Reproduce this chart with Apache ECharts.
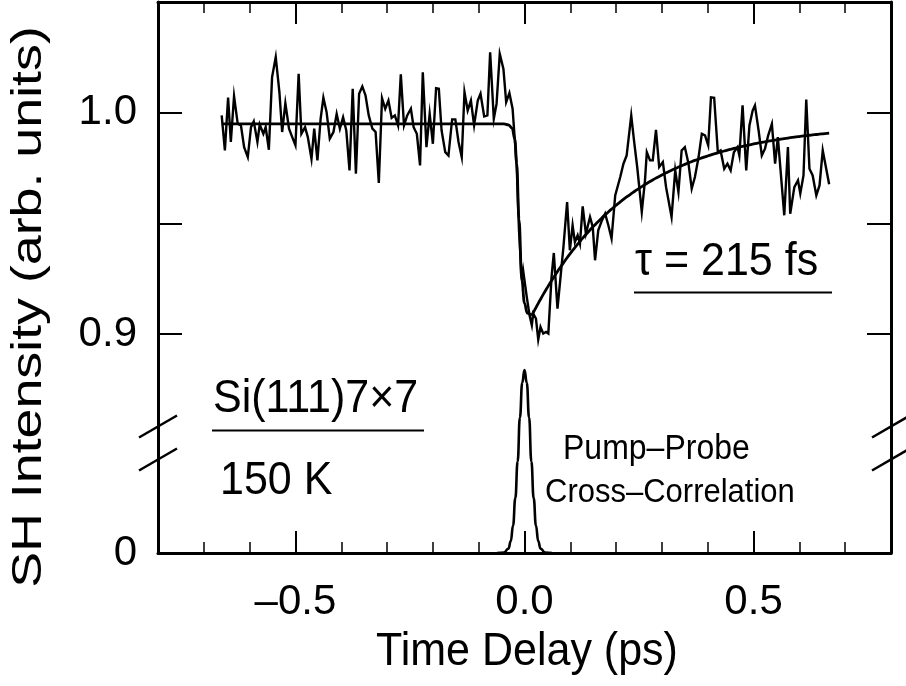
<!DOCTYPE html>
<html>
<head>
<meta charset="utf-8">
<script src="https://cdn.jsdelivr.net/npm/echarts@6/dist/echarts.min.js"></script>
<style>
  html, body { margin: 0; padding: 0; background: #ffffff; }
  #chart { width: 906px; height: 686px; }
</style>
</head>
<body>
<div id="chart"></div>
<script>
// Measured SH intensity versus pump-probe delay (ps), Si(111)7x7 at 150 K
const delayPs = [
  -0.661, -0.654, -0.647, -0.641, -0.634, -0.626, -0.619, -0.612, -0.604, -0.597,
  -0.591, -0.583, -0.578, -0.570, -0.565, -0.558, -0.551, -0.543, -0.535, -0.529,
  -0.522, -0.514, -0.507, -0.500, -0.493, -0.487, -0.479, -0.473, -0.465, -0.459,
  -0.452, -0.445, -0.439, -0.432, -0.425, -0.417, -0.410, -0.403, -0.396, -0.389,
  -0.382, -0.375, -0.368, -0.361, -0.354, -0.347, -0.340, -0.332, -0.325, -0.318,
  -0.311, -0.304, -0.297, -0.290, -0.283, -0.276, -0.270, -0.263, -0.256, -0.248,
  -0.242, -0.235, -0.228, -0.222, -0.214, -0.207, -0.200, -0.193, -0.187, -0.181,
  -0.173, -0.166, -0.158, -0.151, -0.144, -0.137, -0.131, -0.124, -0.117, -0.110,
  -0.102, -0.096, -0.088, -0.081, -0.075, -0.067, -0.061, -0.054, -0.046, -0.040,
  -0.033, -0.026, -0.017, -0.012, -0.006, -0.003, 0.001, 0.005, 0.011, 0.016,
  0.019, 0.025, 0.030, 0.035, 0.041, 0.047, 0.052, 0.059, 0.064, 0.072,
  0.078, 0.085, 0.093, 0.099, 0.105, 0.110, 0.116, 0.121, 0.127, 0.134,
  0.143, 0.149, 0.154, 0.161, 0.169, 0.176, 0.183, 0.190, 0.198, 0.209,
  0.216, 0.223, 0.233, 0.239, 0.246, 0.256, 0.263, 0.267, 0.274, 0.280,
  0.287, 0.294, 0.302, 0.309, 0.321, 0.329, 0.336, 0.343, 0.350, 0.358,
  0.365, 0.372, 0.380, 0.387, 0.394, 0.401, 0.407, 0.414, 0.422, 0.428,
  0.436, 0.443, 0.450, 0.457, 0.465, 0.469, 0.476, 0.484, 0.491, 0.498,
  0.503, 0.511, 0.518, 0.525, 0.532, 0.540, 0.547, 0.553, 0.567, 0.575,
  0.580, 0.589, 0.597, 0.602, 0.609, 0.615, 0.622, 0.629, 0.637, 0.644,
  0.651, 0.665
];
const shIntensity = [
  0.9988, 0.9830, 1.0068, 0.9868, 1.0075, 0.9950, 0.9943, 0.9845, 0.9800, 0.9935,
  0.9961, 0.9868, 0.9947, 0.9905, 0.9935, 0.9833, 1.0161, 1.0251, 1.0093, 0.9913,
  1.0043, 0.9928, 0.9890, 0.9853, 1.0176, 0.9905, 0.9935, 0.9890, 0.9792, 0.9928,
  0.9785, 0.9973, 1.0068, 1.0003, 0.9883, 0.9913, 0.9995, 0.9928, 0.9980, 0.9920,
  0.9740, 1.0108, 0.9725, 1.0086, 1.0119, 1.0078, 0.9988, 0.9928, 0.9913, 0.9683,
  1.0066, 1.0018, 1.0055, 0.9977, 0.9988, 0.9943, 1.0173, 0.9943, 0.9988, 1.0018,
  0.9935, 0.9905, 0.9762, 1.0183, 0.9845, 0.9995, 0.9860, 1.0111, 1.0108, 0.9920,
  0.9822, 0.9807, 0.9970, 0.9970, 0.9868, 0.9800, 1.0093, 1.0010, 1.0055, 0.9943,
  1.0055, 1.0086, 0.9983, 0.9988, 1.0273, 0.9973, 1.0040, 1.0266, 1.0198, 1.0048,
  1.0089, 1.0018, 0.9755, 0.9469, 0.9244, 0.9289, 0.9281, 0.9168, 0.9086, 0.9041,
  0.9093, 0.9071, 0.8976, 0.9033, 0.9003, 0.9010, 0.9003, 0.9258, 0.9367, 0.9116,
  0.9244, 0.9394, 0.9597, 0.9379, 0.9492, 0.9416, 0.9447, 0.9409, 0.9577, 0.9454,
  0.9529, 0.9484, 0.9334, 0.9469, 0.9514, 0.9544, 0.9492, 0.9432, 0.9627, 0.9710,
  0.9770, 0.9807, 0.9988, 0.9875, 0.9755, 0.9552, 0.9695, 0.9822, 0.9785, 0.9785,
  0.9923, 0.9755, 0.9777, 0.9664, 0.9529, 0.9740, 0.9642, 0.9830, 0.9845, 0.9770,
  0.9657, 0.9710, 0.9800, 0.9905, 0.9898, 0.9853, 1.0070, 1.0068, 0.9822, 0.9830,
  0.9747, 0.9770, 0.9740, 0.9822, 0.9845, 0.9807, 1.0033, 0.9740, 0.9943, 1.0010,
  1.0033, 0.9920, 0.9807, 0.9838, 0.9898, 0.9950, 0.9770, 0.9890, 0.9537, 0.9845,
  0.9544, 0.9664, 0.9695, 0.9635, 0.9717, 1.0060, 0.9747, 0.9717, 0.9627, 0.9672,
  0.9830, 0.9677
];

// Fit: flat level before time zero, drop limited by the cross-correlation
const fitStepDelays = [-0.661, -0.045, -0.035, -0.027, -0.021, -0.017, -0.012, -0.006, 0.000, 0.006, 0.016];
const fitStepValues = [0.995, 0.995, 0.9945, 0.993, 0.988, 0.977, 0.952, 0.925, 0.914, 0.9095, 0.9085];

// Fit: exponential recovery after time zero
const fitBaseline = 0.995;
const fitDepth = 0.0865;
const fitOnsetPs = 0.016;
const tauPs = 0.215;

// Pump-probe cross-correlation (normalised to its peak)
const ccDelays = [-0.06, -0.045, -0.035, -0.03, -0.025, -0.02, -0.015, -0.01, -0.005, 0.0,
                  0.005, 0.01, 0.015, 0.02, 0.025, 0.03, 0.035, 0.045, 0.06];
const ccValues = [0, 0.002, 0.024, 0.065, 0.15, 0.30, 0.50, 0.74, 0.93, 1.0,
                  0.93, 0.74, 0.50, 0.30, 0.15, 0.065, 0.024, 0.002, 0];

// Axis ticks and labels
const xMajorTicks = [-0.5, 0, 0.5];
const xTickLabels = ['\u20130.5', '0.0', '0.5'];
const yUpperTicks = [0.9, 0.95, 1.0];
const yUpperLabelValues = [0.9, 1.0];
const yUpperLabels = ['0.9', '1.0'];
const yLowerLabelValues = [0];
const yLowerLabels = ['0'];

const FONT = '"Liberation Sans", Arial, Helvetica, sans-serif';
const INK = '#000000';
const TEXT_STRETCH = 1.07;

// Plot frame geometry (pixels)
const plotLeft = 158, plotTop = 2, plotWidth = 733;
const breakY = 445, plotBottom = 553;
const plotRight = plotLeft + plotWidth;

function lookupLabel(values, labels) {
  return function (v) {
    for (let i = 0; i < values.length; i++) {
      if (Math.abs(values[i] - v) < 1e-9) return labels[i];
    }
    return '';
  };
}

const recoveryDelays = [fitOnsetPs].concat(delayPs.filter(t => t > fitOnsetPs));
const recoveryCurve = recoveryDelays.map(t => [t, fitBaseline - fitDepth * Math.exp(-(t - fitOnsetPs) / tauPs)]);

const frameLine = { show: true, onZero: false, lineStyle: { color: INK, width: 3 } };

function minorX(gridIndex, position) {
  return {
    type: 'value', gridIndex, position, min: -0.8, max: 0.8, interval: 0.1,
    axisLine: frameLine,
    axisTick: { show: true, inside: true, length: 11, lineStyle: { color: INK, width: 1.5 } },
    axisLabel: { show: false }, splitLine: { show: false }
  };
}
function majorX(gridIndex, position, withLabels) {
  return {
    type: 'value', gridIndex, position, min: -0.8, max: 0.8,
    axisLine: { show: false, onZero: false },
    axisTick: { show: true, inside: true, length: 22, customValues: xMajorTicks, lineStyle: { color: INK, width: 2 } },
    axisLabel: withLabels ? {
      show: true, customValues: xMajorTicks, formatter: lookupLabel(xMajorTicks, xTickLabels),
      color: INK, fontFamily: FONT, fontSize: 42, margin: 49, verticalAlign: 'middle'
    } : { show: false },
    splitLine: { show: false }
  };
}

function label(text, x, y, size, align) {
  return {
    type: 'text', x, y, scaleY: TEXT_STRETCH,
    style: { text, fontFamily: FONT, fontSize: size, fill: INK, align: align || 'left', verticalAlign: 'middle' }
  };
}
function rule(x1, x2, y) {
  return { type: 'line', shape: { x1, y1: y, x2, y2: y }, style: { stroke: INK, lineWidth: 2 } };
}

const option = {
  animation: false,
  backgroundColor: '#ffffff',
  grid: [
    { left: plotLeft, top: plotTop, width: plotWidth, height: breakY - plotTop },
    { left: plotLeft, top: breakY, width: plotWidth, height: plotBottom - breakY }
  ],
  xAxis: [
    minorX(0, 'top'),
    majorX(0, 'top', false),
    minorX(1, 'bottom'),
    majorX(1, 'bottom', true)
  ],
  yAxis: [
    {
      type: 'value', gridIndex: 0, position: 'left', min: 0.85, max: 1.05, interval: 0.05,
      axisLine: frameLine,
      axisTick: { show: true, inside: true, length: 24, customValues: yUpperTicks, lineStyle: { color: INK, width: 2 } },
      axisLabel: { show: true, customValues: yUpperLabelValues, formatter: lookupLabel(yUpperLabelValues, yUpperLabels),
                   color: INK, fontFamily: FONT, fontSize: 42, margin: 21 },
      splitLine: { show: false }
    },
    {
      type: 'value', gridIndex: 0, position: 'right', min: 0.85, max: 1.05, interval: 0.05,
      axisLine: frameLine,
      axisTick: { show: true, inside: true, length: 24, customValues: yUpperTicks, lineStyle: { color: INK, width: 2 } },
      axisLabel: { show: false }, splitLine: { show: false }
    },
    {
      type: 'value', gridIndex: 1, position: 'left', min: 0, max: 0.59,
      axisLine: frameLine, axisTick: { show: false },
      axisLabel: { show: true, customValues: yLowerLabelValues, formatter: lookupLabel(yLowerLabelValues, yLowerLabels),
                   color: INK, fontFamily: FONT, fontSize: 42, margin: 21 },
      splitLine: { show: false }
    },
    {
      type: 'value', gridIndex: 1, position: 'right', min: 0, max: 0.59,
      axisLine: frameLine, axisTick: { show: false }, axisLabel: { show: false }, splitLine: { show: false }
    }
  ],
  series: [
    {
      name: 'SH intensity', type: 'line', xAxisIndex: 0, yAxisIndex: 0,
      data: delayPs.map((t, i) => [t, shIntensity[i]]),
      symbol: 'none', clip: false,
      lineStyle: { color: INK, width: 2.4, join: 'miter' }
    },
    {
      name: 'fit before zero', type: 'line', xAxisIndex: 0, yAxisIndex: 0,
      data: fitStepDelays.map((t, i) => [t, fitStepValues[i]]),
      symbol: 'none', smooth: 0.4, smoothMonotone: 'x', clip: false,
      lineStyle: { color: INK, width: 2.8 }
    },
    {
      name: 'exponential recovery', type: 'line', xAxisIndex: 0, yAxisIndex: 0,
      data: recoveryCurve, symbol: 'none', smooth: true, clip: false,
      lineStyle: { color: INK, width: 2.8 }
    },
    {
      name: 'cross-correlation', type: 'line', xAxisIndex: 2, yAxisIndex: 2,
      data: ccDelays.map((t, i) => [t, ccValues[i]]),
      symbol: 'none', smooth: 0.5, smoothMonotone: 'x', clip: false,
      lineStyle: { color: INK, width: 2.6 }
    }
  ],
  graphic: [
    // axis break marks on both sides
    ...[plotLeft, plotRight].flatMap(x => [breakY - 18.5, breakY + 14.5].map(y => ({
      type: 'line', z: 100,
      shape: { x1: x - 19, y1: y + 11, x2: x + 19, y2: y - 11 },
      style: { stroke: INK, lineWidth: 2.5 }
    }))),
    {
      type: 'text', x: 29, y: 307, rotation: Math.PI / 2, scaleX: 1.25,
      style: { text: 'SH Intensity (arb. units)', fontFamily: FONT, fontSize: 43, fill: INK, align: 'center', verticalAlign: 'middle' }
    },
    label('Time Delay (ps)', 527, 652, 43, 'center'),
    label('\u03C4 = 215 fs', 635, 262, 43),
    rule(634, 832, 292.5),
    label('Si(111)7\u00D77', 213, 399, 43),
    rule(212, 424, 430.5),
    label('150 K', 220, 481, 43),
    label('Pump\u2013Probe', 563, 450, 32),
    label('Cross\u2013Correlation', 545, 493, 31)
  ]
};

const chart = echarts.init(document.getElementById('chart'), null, { renderer: 'canvas' });
chart.setOption(option);
</script>
</body>
</html>
